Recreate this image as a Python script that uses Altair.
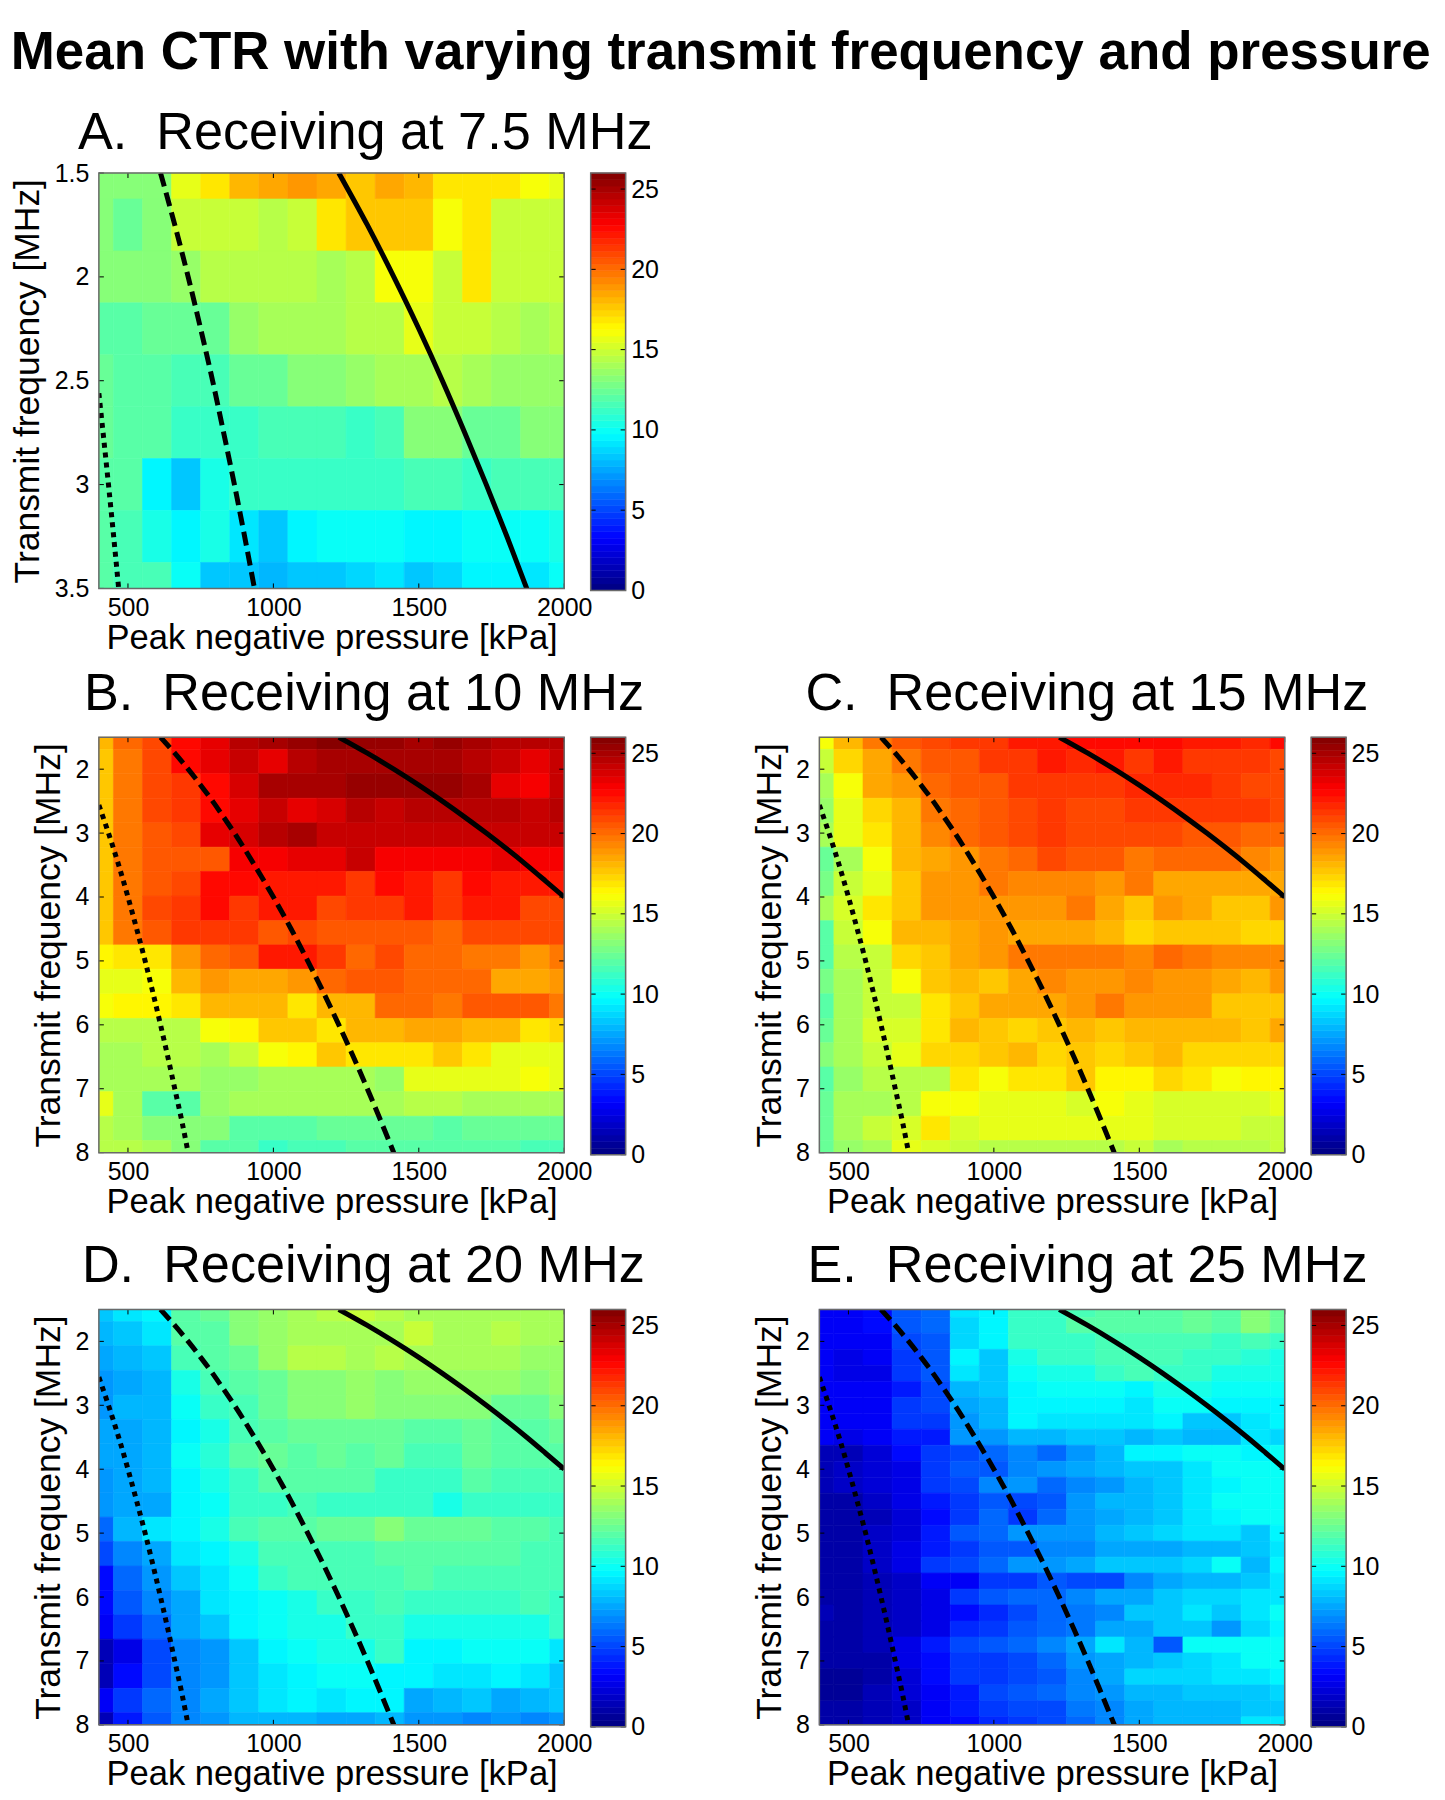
import altair as alt
import pandas as pd

FONT = "Liberation Sans"
PRESSURES = [400,500,600,700,800,900,1000,1100,1200,1300,1400,1500,1600,1700,1800,1900,2000]
FREQ_A = [1.5,1.75,2.0,2.25,2.5,2.75,3.0,3.25,3.5]
FREQ_BCD = [1.5,1.88,2.26,2.65,3.03,3.41,3.79,4.18,4.56,4.94,5.32,5.71,6.09,6.47,6.85,7.24,7.62,8.0]
FREQ_E = [1.5,1.75,2.0,2.25,2.5,2.75,3.0,3.25,3.5,3.75,4.0,4.25,4.5,4.75,5.0,5.25,5.5,5.75,6.0,6.25,6.5,6.75,7.0,7.25,7.5,7.75,8.0]

CTR_A = [
[13,13,13,15.5,17,18,18.5,19,18.5,17.5,18.5,18,17,17,17,16,15.5],
[13,12.5,13,15,15,15,14.5,15,17,17.5,17.5,17.5,16,17,15,15,15],
[13,13,13,13.5,14.5,14.5,14.5,14.5,14,14.5,16,16,15,17,15,15,15],
[12,12,12.5,12.5,12.5,13.5,14,14,14,14.5,14.5,15.5,15,15,14.5,14,14.5],
[12.5,12,12,11.5,11.5,12.5,12.5,13,13,13.5,14,14,14.5,14,13.5,13.5,13.5],
[12.5,12,12,11,11,11,11.5,11.5,11.5,11,11.5,13,13,12.5,12.5,13,13],
[12,12,9.5,8.5,10.5,11,11,11,11,11,11,11.5,11.5,11,11.5,11.5,11.5],
[12,11.5,10.5,9.5,10.5,9,8.5,9.5,9.8,10,10,9.6,9.6,9.8,10,10,10.3],
[12,11.5,11.5,10,8.5,8.2,8,8.3,8.3,8.8,9,8.3,8.8,9.6,9.4,9.1,9.8],
]
CTR_B = [
[18,20,21,22.5,23.5,24.5,25,25.5,25.7,25.5,25.2,25,25.2,25,24.5,24.5,24.5],
[17.5,19.5,21,22.5,23.5,24,23.5,24.5,25,25,25,25,25,24.7,24,23.5,24],
[17.5,19.5,21,21.5,22.7,23.7,25,25,25,25.3,25.3,25.3,25.3,24.8,23.5,23,24],
[17.5,19.5,21,21.5,22.5,23.5,24,23.5,23.7,24.5,24,24.5,24.5,24.5,24.5,24,24.5],
[17.5,19.5,20.5,21,23.5,23.7,24.5,25,24,24,24,24.3,24.3,24.3,24,24,24],
[17.7,19.5,20.5,20.5,20.5,23,23,23.5,23.5,24,23,23,23,23,23.5,23,23],
[17.5,19.5,20.5,21,22.5,22.5,22,22,22,21.5,22.5,22,21.5,22.5,22,22,22],
[17.5,19.5,21,21.5,22.5,21.5,22,22,21,21.5,21.5,22,21.5,22,22,21,21],
[17.5,19.5,20.5,21.5,21.5,21.5,20.5,21,20.5,20.5,20.5,20.5,20,21,21,21,21],
[16.5,17,17,19,20,20.5,22,22,21.5,20,21,20,20,19.5,19.5,19,19.5],
[15.5,15.5,16,18,19,18.5,18.5,19,20,20.5,20.5,20,20,20,18.5,18.5,19],
[16.2,16.3,16.3,17,18,18,18,17,18,18,20,20,19.7,20.5,20.5,20.5,19.5],
[14.5,14.5,14.5,14.5,16,16.3,17.5,17.5,17,18,18,18.5,18.5,18,18,17,17.3],
[14,14,14.5,14.5,14,15,16,16.5,17.5,17,17,17,17.5,17,15.5,15.5,15.5],
[14,14,14,14,13.5,13.5,14,14,14,14,13.5,15.5,15.5,15.5,15.5,16,15.5],
[15.5,14,12,12,13.5,14,14,14,14,14,14,14.5,14.5,14,14,14,14],
[14.5,14,13,13,13,12,12,12,12.5,12.5,12.5,12.5,12,12.5,12.5,12.5,12.5],
[14.5,14.5,14,13,12,12,11,11.5,11.5,12,12,12,12,12,12,11.5,11.5],
]
CTR_C = [
[16.2,18.2,19.5,20.5,21,21.2,21.5,22,22.2,22.5,22.7,22.7,22.5,22,22,21.8,22.5],
[15,17.3,18.5,19.5,20.5,20.7,21.2,21.2,22.2,21.7,22,21.5,22,21.5,21.5,21.5,21],
[14,16.2,18.3,18.8,20,20.5,20.7,21.5,21.5,21.5,21.5,21.8,21.8,21.8,21.3,20.8,20.8],
[13.5,15.5,17.3,18,19.5,20.3,20.7,20.8,21.3,20.8,20.8,21.5,21.5,21.5,21.5,21.3,21],
[14,15.7,17,18,19.3,20,20.5,20.8,21.2,20.8,20.8,20.8,20.8,20.5,20.5,20.2,20.2],
[12.5,14,16.2,18,18.3,19,19.7,20.2,20.8,20.5,20.5,19.7,20.3,20,20,19.3,19],
[12.8,15,15.5,17.8,18.8,19,19.5,19.2,19.2,19.2,18.8,19.5,18.3,18.3,18.5,18.3,18.3],
[14,15.2,16.8,17.8,18.8,18.8,19,18.8,18.8,19.5,18.5,17.7,18.7,18.3,17.8,17.8,18.8],
[12,14.8,16.2,18,18,18.6,18.8,18.6,18.6,18.6,18.2,17.2,17.7,17.7,17.7,17.3,17.3],
[12,14.5,15,17.3,17.8,18.5,18.8,19.5,19.8,19.8,19.8,19.3,20,19.5,19.3,19.3,19.3],
[12.8,14.2,15,16.2,17.5,18.2,17.5,18.6,19.4,19,19,19.4,19,19,18.6,17.9,18.8],
[12,14,14.8,15,16.8,17.8,18.5,18.5,18.5,19,19.5,18.8,18.8,19,17.5,17.5,17.5],
[12.3,14,15.2,15.3,16.7,18,17.7,17.2,17.8,18,17.6,18,18,18,18,17.5,18.3],
[13,14,15,15.5,17.4,17.4,17.8,18,17.4,17.6,17.2,17.6,18,17.4,17.4,17.4,17.4],
[12,13.8,14.5,14.5,14.5,16.8,16.2,16.8,16.8,17.5,16.6,16.6,17.3,16.7,16.2,16.6,16.6],
[12.5,14,14,14.3,16.2,16.2,15.5,15.5,15.5,15.2,16.2,15.6,15.1,15.4,15.2,15.2,15.5],
[12.5,14.2,15,15.4,17,15.2,15.5,15.5,15.5,15.5,15.5,15.7,15.2,15.2,15.2,14.8,15],
[12.3,13.5,14,15.5,15.2,15,14.6,14.6,14.6,14.4,14.4,14.8,14,14.6,14.6,14.6,14.8],
]
CTR_D = [
[8.5,9,9.5,12,12.5,13,13.5,14,14.5,15,14.5,14,14,14,14,14,14],
[8,8.5,9,12,12,13,13.5,14,14,14,14,15,14,14,14.5,14,14],
[7.5,8,8.5,11.5,12,12.5,13.5,14.5,14.5,14,14.5,14,14,14,14,13.5,13.5],
[7,7.5,7.8,10.5,11.5,12,12.5,13,13,13.5,13,13.5,13.5,13.5,13.5,13,13.5],
[7,8,8,10,11,11.5,12.5,13,13,13.5,13,13,13,13,12.5,12.5,13],
[7.5,7.7,8,9.7,10.5,11.5,12,12.5,12.5,12.5,12.5,12,12,12.5,12,12,12.5],
[7.5,7.5,7.8,10,10.8,12,12.5,12,12.5,12,12.5,11.5,11.5,12.5,12,12,12],
[7,7.5,8,9.5,10.5,11,12,12,12,12,11,11,11,12,11.5,11.5,11.5],
[7,7.5,7.5,9.5,10,11,11,11.5,11,11,11,11,10.5,11,11,11,11],
[6,8,9,9.5,10.5,11.5,12,12,12.5,12.5,13,12.5,12.5,12.5,12,12,11.5],
[5,6.5,7.5,9,9.5,10.5,11.5,11.5,11.5,11.5,12,12,12,12,12,11.5,11.5],
[3.5,6,7,8.5,9,10,11,11.5,11.5,11.5,11.5,12,11.5,11.5,11.5,11.5,11.5],
[3.5,5.5,6.5,7.5,9,9.5,10,10.5,11,11,11.5,11,11,11,11,11.5,11],
[3,4.5,6,7.5,8.5,9.5,9.8,10.5,10.5,11,11,10.5,10.5,10.5,10.5,10.5,11],
[1.5,2.5,5,6.5,7,8.5,9.5,10,10.5,10.5,11,9.5,9.5,9.8,9.8,9.8,9],
[1.5,3.5,5,6.5,7,8.5,9,9.5,9.8,9.8,9.5,9.5,9,9,9.5,9,8.5],
[3,4.5,6,6.5,7.5,8.5,9,9.5,9,9.5,9.5,7.5,8,8.5,7.5,8,8.5],
[1.5,4,5.5,6.5,7,8,8,7.8,7.5,7.5,8,7,7,6.8,7,6.5,7],
]
CTR_E = [
[3.2,3.2,3.5,5.5,6,9,9.7,11,11,11.5,11.8,12,12,12.5,12,13,12.5],
[3.2,3.2,3.3,5.5,5.8,8.8,9.7,11,11,11.8,12,12,12,12.5,12,13,12.2],
[3,3,3,5,5.5,8.8,9.6,11,11,11.2,11.5,11.5,11.5,11.5,11.2,11.5,11],
[3.2,2.8,2.9,4.5,5.5,9.5,8.5,10.5,11,11,11.5,11.5,11.5,11.2,11,10.8,10.5],
[3,2.8,2.5,4.5,5.5,9.2,8.5,10,10.3,10.5,11,11.5,11,11,10.5,10.3,10.5],
[3,3,3,4,5,7.8,8.5,9.5,9.8,10,9.8,9.5,10.2,10.3,10,10,10],
[3,3,3,4.5,5,7.5,8,9.5,9.7,9.5,9.5,9.3,9.8,10,9.7,9.5,9.5],
[3,3,3,4.5,4.5,7.2,8,9.5,9,9,9.3,9.3,9.4,8.5,8.5,9,9.5],
[3,2.8,3,4,4,7,7,8,8,8.3,8.5,8,8.3,8,8,9,8.8],
[1.5,1.5,2.2,3.5,4.5,5,6,6.5,6,7,8,9.7,9.5,10,10,9.5,9.8],
[1.5,1.8,2.2,2.8,4.5,5.5,5.5,6.8,7.2,7.5,8,8.5,8.5,9,9.8,10,10],
[1.5,1.8,2.2,2.8,4.5,5,6.5,7,6,6.8,7,8,8.3,9,9.7,9.8,10],
[1,1,1.8,2.8,4,4.5,5.5,5.2,5.5,7,8,8,8.5,9.2,9.8,9.8,10],
[1,1,1.5,2.2,3.5,4.5,5.8,4.8,6,7,7.7,8,8.2,9.2,9.5,10,10],
[1,1,2,2.3,4,5.5,6,7,7,7,8,8.5,8.8,9.3,9.3,8.5,9.6],
[1,1,1.7,2.5,4,4.5,5.5,5.5,6.5,6.8,7.5,7.5,7.5,8,8,8.5,9],
[1,1,1.7,2.6,4.5,5,6,7,7,7.7,8.2,8.3,8.3,8.8,10,8,9.5],
[1,1,1.5,1.7,3,3.2,4.5,4.7,5.5,5,5,6.5,7.5,7.8,8,8.3,9],
[1,1,1.5,1.7,2.8,4.8,5.5,5.7,6,6.5,7.5,7.7,8.5,8.8,8.6,9,9.3],
[1.3,1,1.5,1.8,2.8,3.3,4.2,5,5.8,6.3,6.5,8.2,8.3,9,8.5,9,9.8],
[1,1,1.5,1.8,2.8,4.2,4.5,5.5,5.8,6.3,7.7,7.7,8.2,8.5,7,8.7,9.7],
[1,1,1.5,2.5,3.8,5.2,5.5,5.8,6.5,7.5,9,7.8,5.5,9.8,9.8,10,10],
[1,1,1.2,2.5,3.5,4.5,4.5,5,6,7,7.5,7.8,8.5,8.7,9.2,9.8,10],
[0.8,0.8,1.2,2.3,3.3,4.5,4.5,5.2,5.5,6.8,7.5,8.6,8.7,8.8,9.2,9.2,9.5],
[0.8,0.8,1.3,2.2,3.2,4,5,5.5,5.8,6.8,7.2,8,8,8.3,8.3,8.3,8.8],
[1,1,1.3,2,3,3.8,4.5,5,5,6.2,6.5,7.5,8,8,8,8.3,8.5],
[1,1,1.3,2,3,3.5,4.3,4.6,5,6,6.5,7.5,8,8,8,9,9],
]

SOLID_F = [1.5,1.75,2,2.25,2.5,2.75,3,3.25,3.5,3.75,4]
SOLID_P = [1225,1323,1414,1500,1581,1658,1732,1803,1871,1936,2000]
DASH_F = [1.5,1.75,2,2.25,2.5,2.75,3,3.5,4,4.5,5,5.5,6,6.5,7,7.5,8]
DASH_P = [612,661,707,750,791,829,866,935,1000,1061,1118,1173,1225,1275,1323,1369,1414]
DOT_F = [2.56,3,3.5,4,4.5,5,5.5,6,6.5,7,7.5,8]
DOT_P = [400,433,468,500,530,559,586,612,637,661,685,707]

X_TICKS = [500,1000,1500,2000]
Y_TICKS_A = [1.5,2,2.5,3,3.5]
Y_TICKS = [2,3,4,5,6,7,8]
CBAR_TICKS = [0,5,10,15,20,25]
MAX_CTR = 26

def jet(n=64):
    out = []
    for i in range(n):
        t = (i + 0.5) / n
        chan = [min(1.0, max(0.0, 1.5 - abs(4 * t - c))) for c in (3, 2, 1)]
        out.append("#%02x%02x%02x" % tuple(round(c * 255) for c in chan))
    return out

JET = jet()
COLOR_SCALE = alt.Scale(type="quantize", domain=[0, MAX_CTR], range=JET)

W, H = 466, 416
CB_W, CB_H = 35, 418
TICK_LEN = 5
LBL = 25
FRAME = "#6a6a6a"


def edges(centers):
    out = []
    for i, c in enumerate(centers):
        lo = centers[0] if i == 0 else (centers[i - 1] + c) / 2
        hi = centers[-1] if i == len(centers) - 1 else (c + centers[i + 1]) / 2
        out.append((lo, hi))
    return out


def frame(w, h):
    return alt.Chart(pd.DataFrame({"a": [0]})).mark_rect(
        filled=False, stroke=FRAME, strokeWidth=1.5
    ).encode(x=alt.value(0), x2=alt.value(w), y=alt.value(0), y2=alt.value(h))


def panel(title, dx, offset, freqs, rows, yticks, ymax):
    rec = []
    xe = edges(PRESSURES)
    ye = edges(freqs)
    for (f0, f1), row in zip(ye, rows, strict=True):
        for (p0, p1), v in zip(xe, row, strict=True):
            rec.append({"x0": p0, "x1": p1, "y0": f0, "y1": f1, "v": v})
    df = pd.DataFrame(rec)
    xs = alt.Scale(domain=[400, 2000], nice=False, zero=False)
    ys = alt.Scale(domain=[1.5, ymax], reverse=True, nice=False, zero=False)
    xa = alt.Axis(
        values=X_TICKS, title="Peak negative pressure [kPa]", grid=False, ticks=False,
        domain=False, labelFontSize=LBL, titleFontSize=34.6, labelFont=FONT, titleFont=FONT,
        titleFontWeight="normal", labelColor="black", titleColor="black", labelPadding=7,
        titlePadding=1, labelOverlap=False, labelFlush=False, format="d")
    ya = alt.Axis(
        values=yticks, title="Transmit frequency [MHz]", grid=False, ticks=False,
        domain=False, labelFontSize=LBL, titleFontSize=35.5, labelFont=FONT, titleFont=FONT,
        titleFontWeight="normal", labelColor="black", titleColor="black", labelPadding=10,
        titlePadding=8.5, labelOverlap=False, labelFlush=False, format="~g")
    heat = alt.Chart(df).mark_rect(strokeWidth=0.6).encode(
        x=alt.X("x0:Q", scale=xs, axis=xa),
        x2="x1:Q",
        y=alt.Y("y0:Q", scale=ys, axis=ya),
        y2="y1:Q",
        color=alt.Color("v:Q", scale=COLOR_SCALE, legend=None),
        stroke=alt.Stroke("v:Q", scale=COLOR_SCALE, legend=None),
    )
    layers = [heat]
    for fs, ps, style in [
        (SOLID_F, SOLID_P, {}),
        (DASH_F, DASH_P, {"strokeDash": [14, 6.5]}),
        (DOT_F, DOT_P, {"strokeDash": [5, 5]}),
    ]:
        cdf = pd.DataFrame({"p": ps, "f": fs})
        layers.append(alt.Chart(cdf).mark_line(color="black", strokeWidth=5, clip=True,
                                               interpolate="monotone", **style).encode(
            x=alt.X("p:Q", scale=xs, axis=xa),
            y=alt.Y("f:Q", scale=ys, axis=ya),
        ))
    xt = pd.DataFrame({"t": X_TICKS})
    yt = pd.DataFrame({"t": yticks})
    for a, b in [(0, TICK_LEN), (H, H - TICK_LEN)]:
        layers.append(alt.Chart(xt).mark_rule(color="black", strokeWidth=1).encode(
            x=alt.X("t:Q", scale=xs, axis=xa), y=alt.value(a), y2=alt.value(b)))
    for a, b in [(0, TICK_LEN), (W, W - TICK_LEN)]:
        layers.append(alt.Chart(yt).mark_rule(color="black", strokeWidth=1).encode(
            y=alt.Y("t:Q", scale=ys, axis=ya), x=alt.value(a), x2=alt.value(b)))
    layers.append(frame(W, H))
    return alt.layer(*layers).properties(
        width=W, height=H,
        title=alt.TitleParams(title, anchor="start", frame="group", dx=dx, offset=offset, fontSize=52.3,
                              font=FONT, fontWeight="normal", color="black"),
    )


def colorbar():
    n = len(JET)
    lv = [i * MAX_CTR / n for i in range(n + 1)]
    df = pd.DataFrame({"a": lv[:-1], "b": lv[1:], "c": [x + MAX_CTR / n / 2 for x in lv[:-1]]})
    ys = alt.Scale(domain=[0, MAX_CTR], nice=False, zero=False)
    ya = alt.Axis(
        orient="right", values=CBAR_TICKS, title=None, grid=False, ticks=False, domain=False,
        labelFontSize=LBL, labelFont=FONT, labelColor="black", labelPadding=5,
        labelOverlap=False, labelFlush=False, format="d")
    bar = alt.Chart(df).mark_rect(strokeWidth=0.6).encode(
        x=alt.value(0), x2=alt.value(CB_W),
        y=alt.Y("a:Q", scale=ys, axis=ya),
        y2="b:Q",
        color=alt.Color("c:Q", scale=COLOR_SCALE, legend=None),
        stroke=alt.Stroke("c:Q", scale=COLOR_SCALE, legend=None),
    )
    t = pd.DataFrame({"t": CBAR_TICKS})
    layers = [bar]
    for a, b in [(0, TICK_LEN), (CB_W, CB_W - TICK_LEN)]:
        layers.append(alt.Chart(t).mark_rule(color="black", strokeWidth=1).encode(
            y=alt.Y("t:Q", scale=ys, axis=ya), x=alt.value(a), x2=alt.value(b)))
    layers.append(frame(CB_W, CB_H))
    return alt.layer(*layers).properties(width=CB_W, height=CB_H)


def spacer(w, h):
    return alt.Chart(pd.DataFrame({"a": [0]})).mark_point(opacity=0).encode(
        x=alt.value(0), y=alt.value(0)).properties(width=w, height=h)


GAP_W = 141
cells = [
    panel("A.\u00a0\u00a0Receiving at 7.5 MHz", -21, 1, FREQ_A, CTR_A, Y_TICKS_A, 3.5), colorbar(),
    spacer(GAP_W, 1), spacer(W, 1), spacer(CB_W, 1),
    panel("B.\u00a0\u00a0Receiving at 10 MHz", -15, 15, FREQ_BCD, CTR_B, Y_TICKS, 8), colorbar(),
    spacer(GAP_W, 426),
    panel("C.\u00a0\u00a0Receiving at 15 MHz", -14, 15, FREQ_BCD, CTR_C, Y_TICKS, 8), colorbar(),
    panel("D.\u00a0\u00a0Receiving at 20 MHz", -17, 15, FREQ_BCD, CTR_D, Y_TICKS, 8), colorbar(),
    spacer(GAP_W, 1),
    panel("E.\u00a0\u00a0Receiving at 25 MHz", -12, 15, FREQ_E, CTR_E, Y_TICKS, 8), colorbar(),
]

chart = alt.concat(*cells, columns=5, spacing={"row": 147, "column": 26.5}, bounds="flush").properties(
    title=alt.TitleParams("Mean CTR with varying transmit frequency and pressure", anchor="start",
                          frame="bounds", fontSize=53, font=FONT, fontWeight="bold", color="black", offset=27),
    padding={"left": 2, "top": 17, "right": 5, "bottom": 5},
    background="white",
).resolve_scale(color="independent", stroke="independent").configure_view(stroke=None)

chart.save("out.html", embed_options={"renderer": "svg", "actions": False})
